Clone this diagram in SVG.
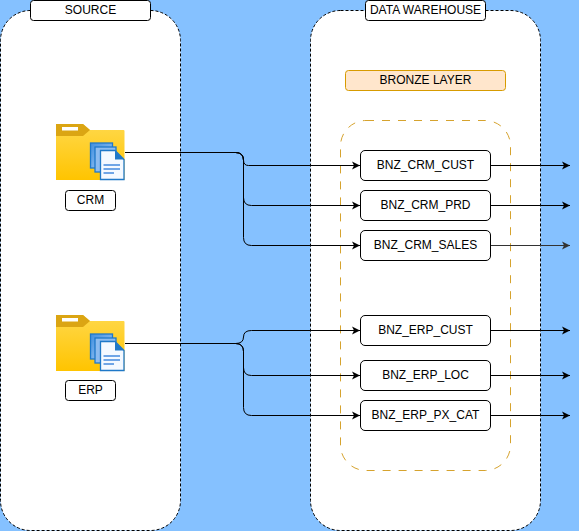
<svg xmlns="http://www.w3.org/2000/svg" width="579" height="531" viewBox="0 0 579 531">
<style>
.panel{fill:#fff;stroke:#000;stroke-width:1;stroke-dasharray:3 2}
.box{fill:#fff;stroke:#000;stroke-width:1}
.t{font-family:"Liberation Sans",Arial,sans-serif;font-size:12px;fill:#000;text-anchor:middle}
.c{fill:none;stroke:#000;stroke-width:1}
</style>
<defs>
<marker id="arrow" markerUnits="userSpaceOnUse" markerWidth="10" markerHeight="10" refX="8" refY="5" orient="auto"><path d="M0 1L8 5L0 9L2 5Z" fill="#000"/></marker>
<marker id="arrowG" markerUnits="userSpaceOnUse" markerWidth="10" markerHeight="10" refX="8" refY="5" orient="auto"><path d="M0 1L8 5L0 9L2 5Z" fill="#333"/></marker>
<linearGradient id="fg" x1="0" y1="0" x2="0" y2="1"><stop offset="0" stop-color="#ffd84a"/><stop offset="1" stop-color="#ffc400"/></linearGradient>
<linearGradient id="pg" x1="0" y1="0" x2="1" y2="1"><stop offset="0" stop-color="#3f8fe0"/><stop offset="1" stop-color="#a9cdf5"/></linearGradient>
<g id="folder">
<path d="M0 0H27L34 6H67.500Q68.500 6 68.500 7V56H0Z" fill="url(#fg)"/>
<path d="M0 0H27L34 6L27 12H0Z" fill="#dba513"/>
<rect x="6" y="3" width="16" height="3.500" fill="#fff"/>
<rect x="34.500" y="19" width="22" height="25" fill="url(#pg)" stroke="#1f78c8" stroke-width="1.300"/>
<rect x="39" y="23" width="21" height="25" fill="#8dbcf0" stroke="#1f78c8" stroke-width="1.300"/>
<path d="M44.500 26.500H59L68 35.500V55.500H44.500Z" fill="#f4f9ff" stroke="#1f78c8" stroke-width="1.300"/>
<path d="M59 26.500L68 35.500H59Z" fill="#1f78c8"/>
<path d="M47.500 41H64M47.500 45H64M47.500 49H58" stroke="#6fa5e6" stroke-width="1.800"/>
</g>
</defs>
<rect width="579" height="531" fill="#85c1ff"/>
<g id="source-panel"><rect class="panel" x="0.500" y="10.500" width="180" height="520" rx="30" ry="30"/></g>
<g id="warehouse-panel"><rect class="panel" x="310.500" y="10.500" width="230" height="520" rx="30" ry="30"/></g>
<g id="bronze-container"><rect x="340.500" y="120.500" width="170" height="350" rx="25.500" ry="25.500" fill="none" stroke="#d6a32e" stroke-dasharray="8 8"/></g>
<g id="connectors">
<path class="c" marker-end="url(#arrow)" d="M125 152.500H235.500Q243.500 152.500 243.500 160Q243.500 165.500 248.500 165.500H360"/>
<path class="c" marker-end="url(#arrow)" d="M125 152.500H235.500Q243.500 152.500 243.500 160.500V197.500Q243.500 205.500 251.500 205.500H360"/>
<path class="c" marker-end="url(#arrow)" d="M125 152.500H235.500Q243.500 152.500 243.500 160.500V237.500Q243.500 245.500 251.500 245.500H360"/>
<path class="c" marker-end="url(#arrow)" d="M125 343.500H235.500Q243.500 343.500 243.500 337Q243.500 330.500 251.500 330.500H360"/>
<path class="c" marker-end="url(#arrow)" d="M125 343.500H235.500Q243.500 343.500 243.500 351.500V367.500Q243.500 375.500 251.500 375.500H360"/>
<path class="c" marker-end="url(#arrow)" d="M125 343.500H235.500Q243.500 343.500 243.500 351.500V407.500Q243.500 415.500 251.500 415.500H360"/>
<path class="c" marker-end="url(#arrow)" d="M490 165.500H570"/>
<path class="c" marker-end="url(#arrow)" d="M490 205.500H570"/>
<path class="c" marker-end="url(#arrowG)" style="stroke:#333" d="M490 245.500H570"/>
<path class="c" marker-end="url(#arrow)" d="M490 330.500H570"/>
<path class="c" marker-end="url(#arrow)" d="M490 375.500H570"/>
<path class="c" marker-end="url(#arrow)" d="M490 415.500H570"/>
</g>
<g id="source-label"><rect class="box" x="30.500" y="0.500" width="120" height="20" rx="3"/><text class="t" x="90.500" y="14">SOURCE</text></g>
<g id="warehouse-label"><rect class="box" x="365.500" y="0.500" width="120" height="20" rx="3"/><text class="t" x="425.500" y="14">DATA WAREHOUSE</text></g>
<g id="bronze-label"><rect x="345.500" y="70.500" width="160" height="20" rx="3" fill="#ffe6cc" stroke="#d79b00"/><text class="t" x="425.500" y="84">BRONZE LAYER</text></g>
<g id="crm"><use href="#folder" x="56" y="124"/><rect class="box" x="65.500" y="190.500" width="50" height="20" rx="3"/><text class="t" x="90.500" y="204">CRM</text></g>
<g id="erp"><use href="#folder" x="56" y="315"/><rect class="box" x="65.500" y="380.500" width="50" height="20" rx="3"/><text class="t" x="90.500" y="394">ERP</text></g>
<g id="bnz-crm-cust"><rect class="box" x="360.500" y="150.500" width="130" height="30" rx="4.500"/><text class="t" x="425.500" y="169">BNZ_CRM_CUST</text></g>
<g id="bnz-crm-prd"><rect class="box" x="360.500" y="190.500" width="130" height="30" rx="4.500"/><text class="t" x="425.500" y="209">BNZ_CRM_PRD</text></g>
<g id="bnz-crm-sales"><rect class="box" x="360.500" y="230.500" width="130" height="30" rx="4.500"/><text class="t" x="425.500" y="249">BNZ_CRM_SALES</text></g>
<g id="bnz-erp-cust"><rect class="box" x="360.500" y="315.500" width="130" height="30" rx="4.500"/><text class="t" x="425.500" y="334">BNZ_ERP_CUST</text></g>
<g id="bnz-erp-loc"><rect class="box" x="360.500" y="360.500" width="130" height="30" rx="4.500"/><text class="t" x="425.500" y="379">BNZ_ERP_LOC</text></g>
<g id="bnz-erp-px-cat"><rect class="box" x="360.500" y="400.500" width="130" height="30" rx="4.500"/><text class="t" x="425.500" y="419">BNZ_ERP_PX_CAT</text></g>
</svg>
